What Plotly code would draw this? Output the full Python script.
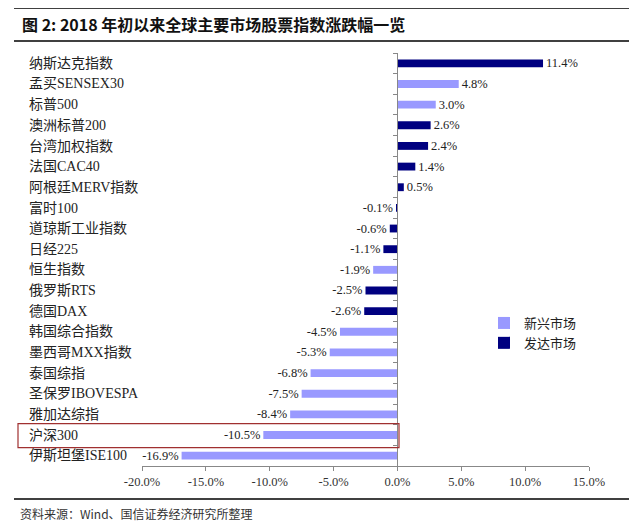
import plotly.graph_objects as go

categories = ["纳斯达克指数", "孟买SENSEX30", "标普500", "澳洲标普200", "台湾加权指数",
              "法国CAC40", "阿根廷MERV指数", "富时100", "道琼斯工业指数", "日经225",
              "恒生指数", "俄罗斯RTS", "德国DAX", "韩国综合指数", "墨西哥MXX指数",
              "泰国综指", "圣保罗IBOVESPA", "雅加达综指", "沪深300", "伊斯坦堡ISE100"]
values = [11.4, 4.8, 3.0, 2.6, 2.4, 1.4, 0.5, -0.1, -0.6, -1.1,
          -1.9, -2.5, -2.6, -4.5, -5.3, -6.8, -7.5, -8.4, -10.5, -16.9]
groups = ["发达市场", "新兴市场", "新兴市场", "发达市场", "发达市场", "发达市场", "发达市场",
          "发达市场", "发达市场", "发达市场", "新兴市场", "发达市场", "发达市场", "新兴市场",
          "新兴市场", "新兴市场", "新兴市场", "新兴市场", "新兴市场", "新兴市场"]
series_names = ["新兴市场", "发达市场"]
colors = {"新兴市场": "#9999FF", "发达市场": "#000080"}
x_ticks = [-20, -15, -10, -5, 0, 5, 10, 15]
highlight = "沪深300"

FONT = "Liberation Serif, Noto Sans CJK SC, serif"
OFF = 8  # default page body margin

fig = go.Figure()
for name in series_names:
    ys = [c for c, g in zip(categories, groups) if g == name]
    xs = [v for v, g in zip(values, groups) if g == name]
    fig.add_trace(go.Bar(
        y=ys, x=xs, orientation="h", name=name,
        marker=dict(color=colors[name], line=dict(width=0)),
        text=[f"{v:.1f}%" for v in xs], textposition="outside",
        constraintext="none",
        textfont=dict(family=FONT, size=12.5, color="#222"),
        cliponaxis=False,
    ))

FW, FH = 637 - OFF, 531 - OFF
L, R, T, B = 142 - OFF, 589 - OFF, 53 - OFF, 466 - OFF
W, H = R - L, B - T
def px(x): return (x - OFF - L) / W
def py(y): return (B - (y - OFF)) / H

fig.update_layout(
    width=FW, height=FH,
    margin=dict(l=L, r=FW - R, t=T, b=FH - B),
    paper_bgcolor="white", plot_bgcolor="white",
    barmode="overlay", bargap=0.62,
    showlegend=True,
    legend=dict(x=px(484), y=py(308), xanchor="left", yanchor="top",
                font=dict(family=FONT, size=13, color="#222"),
                bgcolor="rgba(0,0,0,0)", itemwidth=30, tracegroupgap=0),
    xaxis=dict(range=[-20, 15], tickvals=x_ticks,
               ticktext=[f"{v:.1f}%" for v in x_ticks],
               showgrid=False, zeroline=False, showline=True,
               linecolor="#888", linewidth=1, ticks="outside", ticklen=4,
               tickcolor="#888",
               tickfont=dict(family=FONT, size=12.5, color="#333")),
    yaxis=dict(type="category", categoryorder="array", categoryarray=categories,
               range=[19.5, -0.5], anchor="free", position=20 / 35,
               showticklabels=False, showgrid=False, zeroline=False,
               showline=True, linecolor="#888", linewidth=1,
               ticks="outside", tickson="boundaries", ticklen=4, tickcolor="#888"),
)

for c in categories:
    fig.add_annotation(x=px(27), xref="paper", y=c, yref="y", text=c,
                       xanchor="left", yanchor="middle", showarrow=False,
                       font=dict(family=FONT, size=14, color="#222"))

idx = categories.index(highlight)
fig.add_shape(type="rect", xref="paper", yref="y",
              x0=px(18), x1=px(399), y0=idx - 0.55, y1=idx + 0.61,
              line=dict(color="#A03030", width=1.2), fillcolor="rgba(0,0,0,0)")

for y in (8, 41, 499):
    fig.add_shape(type="line", xref="paper", yref="paper",
                  x0=px(14), x1=px(631), y0=py(y), y1=py(y),
                  line=dict(color="black", width=1.5))

fig.add_annotation(x=px(20), xref="paper", y=py(24), yref="paper",
                   text="<b>图 2: 2018 年初以来全球主要市场股票指数涨跌幅一览</b>",
                   xanchor="left", yanchor="middle", showarrow=False,
                   font=dict(family="Noto Sans CJK SC", size=16, color="#111"))
fig.add_annotation(x=px(18), xref="paper", y=py(513), yref="paper",
                   text="资料来源：Wind、国信证券经济研究所整理",
                   xanchor="left", yanchor="middle", showarrow=False,
                   font=dict(family="Noto Sans CJK SC", size=12, color="#333"))

fig.write_html("out.html")
